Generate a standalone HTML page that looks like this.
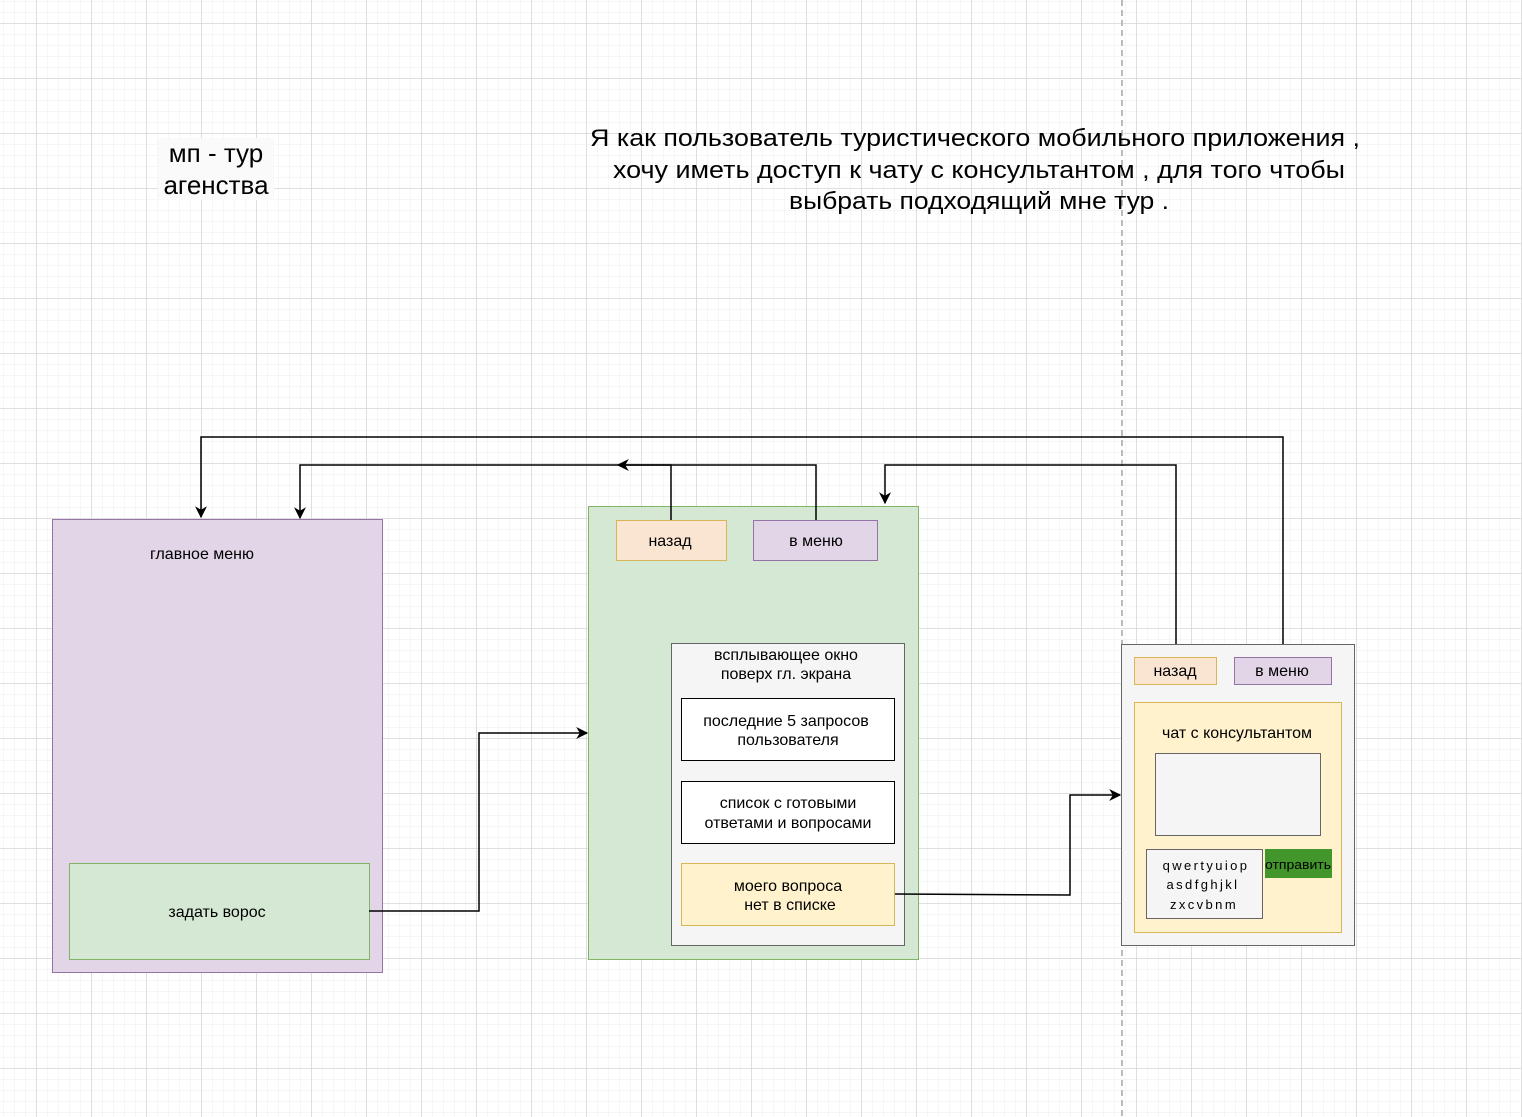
<!DOCTYPE html>
<html><head><meta charset="utf-8"><style>
html,body{margin:0;padding:0;background:#fff}
svg{display:block}
text{font-family:"Liberation Sans",Arial,sans-serif;fill:#000}
</style></head><body>
<svg width="1522" height="1117" viewBox="0 0 1522 1117" xmlns="http://www.w3.org/2000/svg">
<defs>
<pattern id="minor" x="3.5" y="1.5" width="11" height="11" patternUnits="userSpaceOnUse">
<path d="M11 0V11M0 11H11" stroke="#eeeeee" stroke-width="1" fill="none"/>
</pattern>
<pattern id="major" x="36.5" y="23.5" width="55" height="55" patternUnits="userSpaceOnUse">
<path d="M0 0V55M0 0H55" stroke="#d0d0d0" stroke-width="1" fill="none"/>
</pattern>
<marker id="ar" viewBox="0 0 10 10" refX="9" refY="5" markerWidth="12" markerHeight="12" markerUnits="userSpaceOnUse" orient="auto">
<path d="M0 0L10 5L0 10L3 5Z" fill="#000"/>
</marker>
</defs>
<rect width="1522" height="1117" fill="url(#minor)"/>
<rect width="1522" height="1117" fill="url(#major)"/>
<line x1="1122" y1="0" x2="1122" y2="1117" stroke="#bbb" stroke-width="2" stroke-dasharray="6,4"/>

<!-- titles -->
<rect x="158" y="138" width="116" height="62" fill="#fafafa"/>
<text x="216" y="162" font-size="26" text-anchor="middle">мп - тур</text>
<text x="216" y="194" font-size="26" text-anchor="middle">агенства</text>
<text x="975" y="146" font-size="24" text-anchor="middle" textLength="770" lengthAdjust="spacingAndGlyphs">Я как пользователь туристического мобильного приложения ,</text>
<text x="979" y="178" font-size="24" text-anchor="middle" textLength="732" lengthAdjust="spacingAndGlyphs">хочу иметь доступ к чату с консультантом , для того чтобы</text>
<text x="979" y="209" font-size="24" text-anchor="middle" textLength="380" lengthAdjust="spacingAndGlyphs">выбрать подходящий мне тур .</text>

<!-- main menu -->
<rect x="52.5" y="519.5" width="330" height="453" fill="#e1d5e7" stroke="#9673a6"/>
<text x="202" y="559" font-size="16" text-anchor="middle">главное меню</text>
<rect x="69.5" y="863.5" width="300" height="96" fill="#d5e8d4" stroke="#82b366"/>
<text x="217" y="917" font-size="16" text-anchor="middle">задать ворос</text>

<!-- green screen -->
<rect x="588.5" y="506.5" width="330" height="453" fill="#d5e8d4" stroke="#82b366"/>
<rect x="616.5" y="520.5" width="110" height="40" fill="#fae5d3" stroke="#d6b656"/>
<text x="670" y="546" font-size="16" text-anchor="middle">назад</text>
<rect x="753.5" y="520.5" width="124" height="40" fill="#e1d5e7" stroke="#9673a6"/>
<text x="816" y="546" font-size="16" text-anchor="middle">в меню</text>
<rect x="671.5" y="643.5" width="233" height="302" fill="#f5f5f5" stroke="#666"/>
<text x="786" y="660" font-size="16" text-anchor="middle">всплывающее окно</text>
<text x="786" y="679" font-size="16" text-anchor="middle">поверх гл. экрана</text>
<rect x="681.5" y="698.5" width="213" height="62" fill="#fff" stroke="#000"/>
<text x="786" y="726" font-size="16" text-anchor="middle">последние 5 запросов</text>
<text x="788" y="745" font-size="16" text-anchor="middle">пользователя</text>
<rect x="681.5" y="781.5" width="213" height="62" fill="#fff" stroke="#000"/>
<text x="788" y="808" font-size="16" text-anchor="middle">список с готовыми</text>
<text x="788" y="828" font-size="16" text-anchor="middle">ответами и вопросами</text>
<rect x="681.5" y="863.5" width="213" height="62" fill="#fff2cc" stroke="#d6b656"/>
<text x="788" y="891" font-size="16" text-anchor="middle">моего вопроса</text>
<text x="790" y="910" font-size="16" text-anchor="middle">нет в списке</text>

<!-- chat screen -->
<rect x="1121.5" y="644.5" width="233" height="301" fill="#f5f5f5" stroke="#666"/>
<rect x="1134.5" y="657.5" width="82" height="27" fill="#fae5d3" stroke="#d6b656"/>
<text x="1175" y="676" font-size="16" text-anchor="middle">назад</text>
<rect x="1234.5" y="657.5" width="97" height="27" fill="#e1d5e7" stroke="#9673a6"/>
<text x="1282" y="676" font-size="16" text-anchor="middle">в меню</text>
<rect x="1134.5" y="702.5" width="207" height="230" fill="#fff2cc" stroke="#d6b656"/>
<text x="1237" y="738" font-size="16" text-anchor="middle">чат с консультантом</text>
<rect x="1155.5" y="753.5" width="165" height="82" fill="#f5f5f5" stroke="#666"/>
<rect x="1146.5" y="849.5" width="116" height="69" fill="#f5f5f5" stroke="#666"/>
<text x="1206" y="870" font-size="13" text-anchor="middle" letter-spacing="2.4" fill="#333">qwertyuiop</text>
<text x="1203" y="889" font-size="13" text-anchor="middle" letter-spacing="2.4" fill="#333">asdfghjkl</text>
<text x="1204" y="909" font-size="13" text-anchor="middle" letter-spacing="2.4" fill="#333">zxcvbnm</text>
<rect x="1265" y="849" width="67" height="29" fill="#43962b"/>
<text x="1298" y="869" font-size="13" text-anchor="middle" textLength="66" lengthAdjust="spacingAndGlyphs">отправить</text>

<!-- connectors -->
<g stroke="#000" stroke-width="1.5" fill="none">
<polyline points="1283,644 1283,437 201,437 201,517" marker-end="url(#ar)"/>
<polyline points="816,520 816,465 300,465 300,518" marker-end="url(#ar)"/>
<polyline points="671,520 671,465 618,465" marker-end="url(#ar)"/>
<polyline points="1176,644 1176,465 885,465 885,503" marker-end="url(#ar)"/>
<polyline points="369,911 479,911 479,733 587,733" marker-end="url(#ar)"/>
<polyline points="895,894 1070,895 1070,795 1120,795" marker-end="url(#ar)"/>
</g>
</svg>
</body></html>
